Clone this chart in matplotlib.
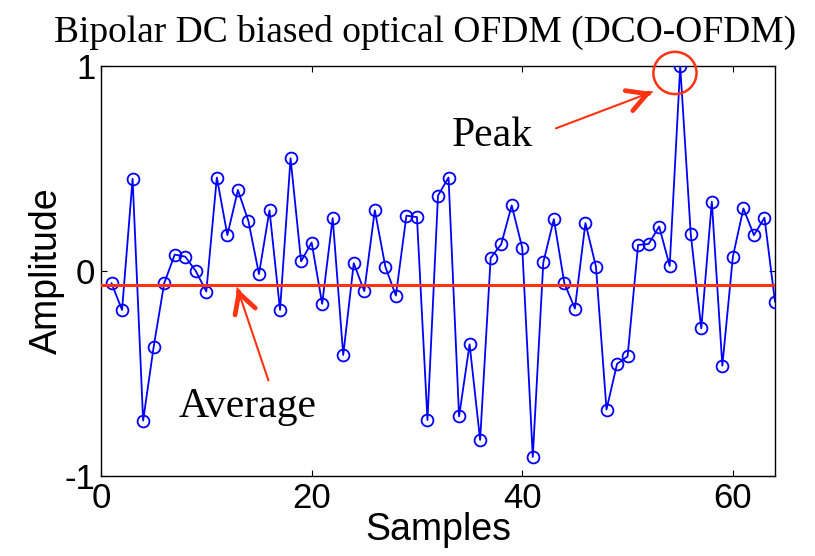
import matplotlib
matplotlib.use("Agg")
import matplotlib.pyplot as plt
from matplotlib.patches import Ellipse, FancyArrowPatch

plt.rcParams["axes.unicode_minus"] = False

### DATA
samples = list(range(1, 65))
amplitude = [
    -0.06, -0.19, 0.45, -0.73, -0.37, -0.06, 0.08, 0.07, 0.00, -0.10,
    0.456, 0.175, 0.395, 0.243, -0.015, 0.296, -0.19, 0.55, 0.047, 0.139,
    -0.16, 0.258, -0.41, 0.038, -0.098, 0.296, 0.021, -0.12, 0.27, 0.263,
    -0.727, 0.368, 0.456, -0.709, -0.358, -0.824, 0.064, 0.13, 0.32, 0.113,
    -0.907, 0.042, 0.253, -0.06, -0.183, 0.234, 0.021, -0.676, -0.453, -0.417,
    0.127, 0.132, 0.217, 0.025, 1.0, 0.18, -0.28, 0.338, -0.462, 0.07,
    0.305, 0.175, 0.26, -0.15,
]
average = -0.07
title = "Bipolar DC biased optical OFDM (DCO-OFDM)"
###

red = "#ff3311"
sans = "Liberation Sans"
serif = "Liberation Serif"


def red_arrow(ax, tail, tip):
    # thin shaft
    ax.add_patch(FancyArrowPatch(tail, tip, arrowstyle="-", color=red,
                                 lw=1.5, shrinkA=0, shrinkB=0, zorder=6))
    # thick open head, drawn on a very short piece near the tip
    near = (tip[0] - 0.04 * (tip[0] - tail[0]), tip[1] - 0.04 * (tip[1] - tail[1]))
    ax.add_patch(FancyArrowPatch(near, tip,
                                 arrowstyle="->,head_length=1.0,head_width=0.55",
                                 mutation_scale=14, color=red, lw=3.4,
                                 shrinkA=0, shrinkB=0, capstyle="round",
                                 joinstyle="round", zorder=6, clip_on=False))


fig = plt.figure(figsize=(8.15, 5.56), dpi=100)
ax = fig.add_axes([101 / 815, 1 - 476 / 556, 674 / 815, 410 / 556])

ax.plot(samples, amplitude, color="blue", lw=1.3, marker="o", ms=8.5,
        mfc="none", mec="blue", mew=1.3, zorder=3)
ax.plot([0, samples[-1]], [average, average], color=red, lw=2.2, zorder=4)

ax.set_xlim(0, 64)
ax.set_ylim(-1, 1)
ax.set_xticks([0, 20, 40, 60])
ax.set_yticks([-1, 0, 1])
ax.tick_params(direction="in", length=4, width=0.8, top=True, right=True,
               labelsize=25, pad=4)
for lab in ax.get_xticklabels() + ax.get_yticklabels():
    lab.set_fontfamily(sans)
for s in ax.spines.values():
    s.set_linewidth(1.0)

ax.set_xlabel("Samples", fontsize=27, family=sans, labelpad=-2)
ax.set_ylabel("Amplitude", fontsize=27, family=sans, labelpad=0)

fig.text(425 / 815, 1 - 42 / 556, title, ha="center", va="baseline",
         fontsize=27, family=serif)

# peak marker
ax.add_patch(Ellipse((54.5, 0.966), 4.1, 0.206, fill=False, ec=red, lw=1.8,
                     clip_on=False, zorder=5))
red_arrow(ax, (43.2, 0.696), (52.3, 0.873))
ax.text(37.2, 0.608, "Peak", ha="center", va="baseline", fontsize=30,
        family=serif)

# average marker
red_arrow(ax, (15.9, -0.534), (12.95, -0.085))
ax.text(13.9, -0.711, "Average", ha="center", va="baseline", fontsize=30,
        family=serif)

fig.savefig("out.png", dpi=100)
